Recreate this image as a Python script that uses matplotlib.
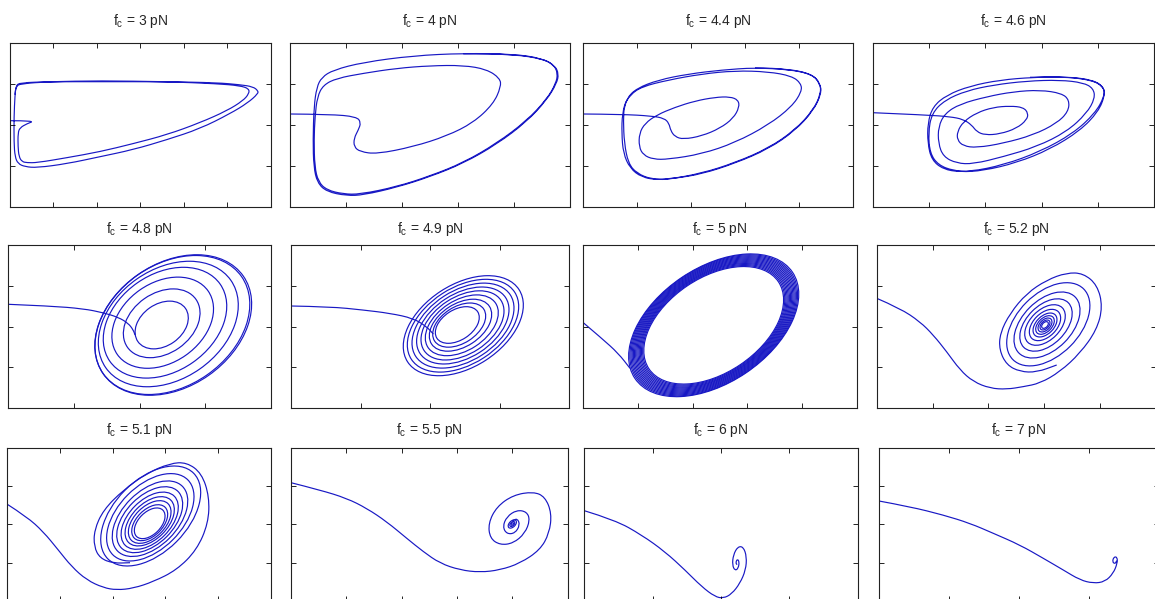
"""
Phase portraits of the oscillator for twelve values of the critical force f_c.
Trajectory points are read off the reference figure, in screen pixels of each
panel (x to the right, y up, origin at the lower-left corner of the box).
"""
import numpy as np
import matplotlib
matplotlib.use("Agg")
import matplotlib.pyplot as plt
from matplotlib.patches import Ellipse, PathPatch
from matplotlib.path import Path

plt.rcParams["font.family"] = ["Liberation Sans", "DejaVu Sans"]
plt.rcParams["mathtext.fontset"] = "custom"
plt.rcParams["mathtext.rm"] = "Liberation Sans"
plt.rcParams["mathtext.it"] = "Liberation Sans"

FC = ["3", "4", "4.4", "4.6", "4.8", "4.9", "5", "5.2", "5.1", "5.5", "6", "7"]

# ---- trajectories (polylines) ---------------------------------------------
TRAJ_3 = np.array([
    (0, 86), (25, 86), (17, 83), (10, 79), (8, 74), (8, 60), (9, 50), (12, 45),
    (17, 44), (27, 44), (57, 49), (90, 55), (123, 63), (157, 72), (190, 84),
    (217, 96), (233, 106), (239, 113), (239, 118), (230, 121), (207, 123),
    (157, 125), (90, 125), (40, 125), (10, 123), (6, 120), (5, 112), (4, 90),
    (4, 64), (5, 50), (8, 43), (15, 40), (27, 39), (57, 43), (90, 50),
    (123, 57), (157, 67), (190, 78), (220, 93), (238, 104), (248, 113),
    (248, 116), (243, 120), (230, 122), (207, 124), (157, 125), (90, 126),
    (40, 125), (10, 124), (6, 121), (5, 112)])

TRAJ_4 = np.array([
    (0, 92.7), (40, 92.4), (66.7, 90), (71, 84), (68.3, 76.7), (64, 68.4),
    (64, 60), (70, 55), (86.7, 52.7), (123.3, 60), (156.7, 70.7), (183.3, 84),
    (203.3, 102.7), (211, 120), (210, 128.4), (196.7, 137.4), (173.3, 141.4),
    (140, 141), (106.7, 138.4), (73.3, 133.4), (46.7, 128.4), (33.3, 121.7),
    (27.3, 110), (25, 90), (24, 66.7), (24.7, 40), (28.3, 25), (36.7, 16.7),
    (53.3, 12.7), (70, 12.4), (106.7, 20), (140, 30.7), (173.3, 44),
    (206.7, 63.4), (236.7, 86), (256.7, 107.4), (266, 123.4), (267.7, 133.4),
    (264, 141.7), (251.7, 148.4), (223.3, 152.7), (173.3, 153.4),
    (123.3, 151), (73.3, 144.4), (43.3, 136.7), (31.7, 129.4), (26.7, 119.4),
    (24, 100), (23, 66.7), (23.7, 40), (27.3, 24), (36.7, 15), (56.7, 11),
    (73.3, 11.7), (106.7, 19.4), (140, 30), (173.3, 43.4), (206.7, 62.4),
    (236.7, 85), (256.7, 106.7), (266.7, 123.4), (268.7, 132.7), (265, 141),
    (253.3, 147.7), (223.3, 152.4), (173.3, 153)])

TRAJ_44 = np.array([
    (0, 92.7), (38.4, 92.4), (68.4, 90.7), (81, 88.4), (85.7, 83.4),
    (87.4, 76), (91.7, 70), (100, 67.4), (118.4, 70.7), (136.7, 78.4),
    (150, 88.4), (156, 99.4), (155, 106.7), (146.7, 110), (131.7, 109.4),
    (111.7, 105.7), (91.7, 99.4), (73.4, 91.7), (61.7, 83.4), (56, 73.4),
    (55.7, 60), (60, 51.7), (70, 47.4), (85, 47.4), (118.4, 52.7),
    (151.7, 64), (185, 81.7), (208.4, 100), (218.4, 115), (217.7, 123.4),
    (208.4, 130.7), (185, 135), (151.7, 136), (118.4, 132.7), (85, 126.7),
    (58.4, 120), (46.7, 111.7), (41, 101.7), (40, 86.7), (41, 63.4),
    (45, 43.4), (53.4, 33.4), (68.4, 27.4), (85, 27.4), (118.4, 33.4),
    (151.7, 44), (185, 58.4), (211.7, 76.7), (230, 96.7), (237.7, 113.4),
    (236.7, 123.4), (228.4, 132.7), (205, 137.7), (171.7, 139),
    (138.4, 136.7), (105, 132.7), (75, 126.7), (53.4, 118.4), (43.4, 108.4),
    (39, 93.4), (38.4, 73.4), (40, 53.4), (46.7, 38.4), (58.4, 29.4),
    (75, 26.7), (91.7, 28.4), (118.4, 32.7), (151.7, 43.4), (185, 57.7),
    (211.7, 76), (230, 96), (238, 113), (237, 123), (229, 132.4),
    (205, 137.4), (171.7, 138.7)])

TRAJ_46 = np.array([
    (0, 94), (53.7, 91.7), (77, 90), (90.3, 87.4), (98.7, 81.7), (103.7, 75),
    (112, 71.7), (127, 72.7), (143.7, 78.4), (153.7, 86.7), (155.3, 93.4),
    (150.3, 99.4), (137, 100.7), (120.3, 99.4), (103.7, 94), (90.3, 85),
    (84.3, 75), (84.3, 66.7), (90.3, 60.7), (103.7, 59), (130.3, 63.4),
    (160.3, 71.7), (183.7, 83.4), (195.3, 95), (196.3, 106.7), (188.7, 113.4),
    (167, 116.7), (140.3, 115), (113.7, 110), (87, 102.7), (72, 93.4),
    (65.3, 80), (65.3, 63.4), (70.3, 50), (83.7, 43.4), (100.3, 42.7),
    (130.3, 50), (163.7, 60), (193.7, 75), (213.7, 93.4), (222, 108.4),
    (220.3, 118.4), (210.3, 124), (187, 126.7), (153.7, 125.7),
    (120.3, 121.7), (93.7, 116), (72, 106.7), (58.7, 93.4), (55.3, 73.4),
    (57, 53.4), (65.3, 41.7), (80.3, 36), (97, 35), (130.3, 41.7),
    (167, 55), (200.3, 73.4), (222, 93.4), (231.3, 110), (231, 119.4),
    (220.3, 126.7), (193.7, 130), (160.3, 129.4), (127, 126.7), (97, 120.7),
    (73.7, 111.7), (59.7, 100), (54.7, 83.4), (54.7, 63.4), (58.7, 46.7),
    (70.3, 37.4), (87, 34.7), (110.3, 36), (143.7, 44), (177, 57.4),
    (207, 76), (225.3, 95), (232, 111.7), (230.3, 120), (218.7, 126.7),
    (190.3, 130), (157, 129.4)])

TRAJ_48 = np.array([
    (0, 103.2), (41.7, 101.5), (75, 98.8), (95, 94.8), (110, 90.2),
    (120, 84.2), (125, 77.5), (126.7, 72.5)])

TRAJ_49 = np.array([
    (0, 101.5), (39, 100.8), (72.3, 97.5), (99, 94.2), (122.3, 89.2),
    (135.7, 80.8), (142.3, 73.5)])

TRAJ_5 = np.array([(0, 84.8), (18.4, 69.2), (35, 54.2), (46.7, 39.2)])

TRAJ_52 = np.array([
    (0, 109.2), (23.3, 99.2), (43.3, 85.8), (56.6, 72.5), (70, 55.8),
    (83.3, 37.5), (96.6, 25.8), (113.3, 19.2), (130, 18.2), (146.6, 20.8),
    (163.3, 24.2), (183.3, 35.8), (203.3, 54.2), (220, 77.5), (226, 100.8),
    (220.6, 122.5), (206.6, 134.2), (190, 134.8), (170, 127.5),
    (150, 114.2), (133.3, 94.2), (123.3, 74.2), (122.6, 57.5), (130, 42.5),
    (143.3, 35.8), (160, 35.2), (180, 42.5)])

TRAJ_51 = np.array([
    (0, 96.7), (19.4, 84.3), (36, 69.3), (51, 51), (64.4, 34.3), (79.4, 21),
    (96, 13.3), (109.4, 11), (126, 12.7), (146, 19.3), (169.4, 31),
    (189.4, 51), (201, 77.7), (202, 104.3), (194.4, 127.7), (179.4, 138.7),
    (162.7, 137.7), (139.4, 127.7), (116, 111), (96, 91), (87, 71),
    (86.7, 54.3), (92.7, 42.7), (106, 37.7), (122.7, 38.3)])

TRAJ_55 = np.array([
    (0, 118.3), (29, 111), (55.7, 102.7), (75.7, 92.7), (95.7, 79.3),
    (115.7, 62.7), (132.3, 49.3), (149, 37.7), (169, 31), (189, 28.7),
    (209, 31), (229, 37.7), (249, 51), (258.3, 67.7), (260.7, 87.7),
    (254, 104.3), (242.3, 109.3), (222.3, 106), (205.7, 94.3), (197.3, 77.7),
    (199, 62.7), (209, 56), (222.3, 57.7), (234, 67.7), (239, 81),
    (235.7, 89.3), (225.7, 91), (215.7, 84.3), (211.7, 74.3), (215.7, 67),
    (224, 67.7), (229, 76), (226.3, 82.7), (221.3, 80)])

TRAJ_6 = np.array([
    (0, 90.3), (30.7, 81), (57.4, 66), (80.7, 49.3), (100.7, 31),
    (117.4, 14.3), (130.7, 4.3), (139, 2.7), (147.4, 7), (155.7, 17.7),
    (161.4, 31), (162.4, 44.3), (159, 54.3), (153.4, 54.3), (149, 46),
    (148, 36), (150.7, 30.3), (154, 32.7), (155, 39.3), (153, 42),
    (151.4, 38.3), (152.7, 36.3)])

TRAJ_7 = np.array([
    (0, 100), (31, 94.3), (64.3, 86), (91, 77.7), (114.3, 67.7), (141, 56),
    (164.3, 42.7), (184.3, 31), (201, 21), (214.3, 17.7), (226, 19.3),
    (234.3, 27.7), (238.3, 37.7), (238.3, 43.7), (235, 44.3), (233.3, 39.3),
    (236, 37), (237.7, 40.3)])

TRAJS = [TRAJ_3, TRAJ_4, TRAJ_44, TRAJ_46, TRAJ_48, TRAJ_49,
         TRAJ_5, TRAJ_52, TRAJ_51, TRAJ_55, TRAJ_6, TRAJ_7]

# ---- spiral turns drawn as ellipses: centre x, centre y, semi-axes a, b
RING_48_CX = [153.4, 153.4, 154.4, 156.7, 160.0, 164.0, 165.0]
RING_48_CY = [82.5, 84.2, 84.8, 84.8, 83.5, 82.5, 82.5]
RING_48_A = [29.0, 41.8, 55.4, 67.3, 76.3, 84.5, 85.4]
RING_48_B = [20.9, 30.1, 39.9, 48.5, 54.9, 60.8, 61.5]

RING_49_CX = [166.3, 168.2, 169.5, 170.8, 171.5, 171.8, 172.0, 172.0, 172.3]
RING_49_CY = [82.5, 82.4, 82.3, 82.2, 82.1, 82.0, 81.9, 81.8, 81.8]
RING_49_A = [24.3, 29.3, 34.5, 40.4, 45.9, 51.1, 56.4, 61.6, 66.4]
RING_49_B = [15.1, 18.2, 21.4, 25.0, 28.5, 31.7, 35.0, 38.2, 41.2]

RING_5_CX = [130.4] * 14
RING_5_CY = [82.2] * 14
RING_5_A = [78.0, 79.3, 80.6, 81.9, 83.2, 84.5, 85.8, 87.1, 88.4, 89.7,
            91.0, 92.3, 93.6, 95.0]
RING_5_B = [47.5, 48.3, 49.1, 49.9, 50.6, 51.4, 52.2, 53.0, 53.8, 54.6,
            55.4, 56.2, 57.0, 57.5]

RING_52_CX = [171.6, 170.3, 169.3, 168.3, 168.3, 168.3, 168.3, 168.3, 168.3, 168.3]
RING_52_CY = [83.2, 82.5, 82.5, 82.5, 82.5, 82.5, 82.5, 82.5, 82.5, 82.5]
RING_52_A = [50.0, 39.7, 31.5, 24.4, 18.8, 14.4, 11.2, 8.4, 6.0, 4.0]
RING_52_B = [31.0, 24.6, 19.5, 15.1, 11.7, 8.9, 6.9, 5.2, 3.7, 2.5]

RING_51_CX = [143.4, 143.0, 142.7, 142.4, 142.4, 142.4, 142.4, 142.4, 142.4]
RING_51_CY = [85.0, 83.7, 82.3, 81.3, 80.3, 79.7, 79.0, 78.3, 77.7]
RING_51_A = [60.6, 53.0, 45.8, 40.0, 34.7, 29.9, 25.9, 21.8, 18.6]
RING_51_B = [36.4, 31.8, 27.5, 24.0, 20.8, 17.9, 15.5, 13.1, 11.2]

RING_55_CX = [221.3, 221.3, 221.3]
RING_55_CY = [77.0, 77.0, 77.0]
RING_55_A = [5.0, 3.0, 1.5]
RING_55_B = [3.0, 1.8, 0.9]

# panel index -> (cx, cy, a, b, tilt in degrees)
RINGS = {4: (RING_48_CX, RING_48_CY, RING_48_A, RING_48_B, 35),
         5: (RING_49_CX, RING_49_CY, RING_49_A, RING_49_B, 33),
         6: (RING_5_CX, RING_5_CY, RING_5_A, RING_5_B, 34),
         7: (RING_52_CX, RING_52_CY, RING_52_A, RING_52_B, 45),
         8: (RING_51_CX, RING_51_CY, RING_51_A, RING_51_B, 45),
         9: (RING_55_CX, RING_55_CY, RING_55_A, RING_55_B, 45)}

# ---- layout: panel boxes in pixels (left, top, right, bottom) -------------
FIG_W, FIG_H = 1155, 599
BOXES = [(10, 42.6, 270.7, 206.7), (290, 42.6, 570, 206.7),
         (583.3, 42.6, 853, 206.7), (873, 42.6, 1154, 206.7),
         (8.3, 245.5, 270.7, 407.5), (291, 245.5, 569.3, 407.5),
         (583.3, 245.5, 856.7, 407.5), (876.7, 245.5, 1156, 407.5),
         (7.3, 447.5, 270.7, 601), (291, 447.5, 567.7, 601),
         (584.3, 447.5, 857.7, 601), (879, 447.5, 1159, 601)]
NX = [6, 5, 5, 5, 4, 4, 5, 5, 5, 5, 4, 4]
NY = [4, 4, 4, 4, 4, 4, 2, 4, 4, 4, 4, 4]
TITLE_PAD = [12.8] * 4 + [9.0] * 4 + [9.5] * 4

LINE = "#1818c4"
LW = 0.85


def smooth(pts):
    """Path through the read points, corners rounded by quadratic segments."""
    verts, codes = [pts[0]], [Path.MOVETO]
    for k in range(1, len(pts) - 1):
        verts += [pts[k], (pts[k] + pts[k + 1]) / 2]
        codes += [Path.CURVE3, Path.CURVE3]
    verts.append(pts[-1])
    codes.append(Path.LINETO)
    return Path(verts, codes)


fig = plt.figure(figsize=(FIG_W / 100, FIG_H / 100), dpi=100)
for i, (l, t, r, b) in enumerate(BOXES):
    w, h = r - l, b - t
    ax = fig.add_axes([l / FIG_W, 1 - b / FIG_H, w / FIG_W, h / FIG_H])
    ax.set_xlim(0, w)
    ax.set_ylim(0, h)
    ax.set_xticks(np.linspace(0, w, NX[i] + 1)[1:-1])
    ax.set_yticks(np.linspace(0, h, NY[i] + 1)[1:-1])
    ax.tick_params(direction="in", length=3.5, width=0.6, top=True,
                   right=True, labelbottom=False, labelleft=False)
    for sp in ax.spines.values():
        sp.set_linewidth(0.8)
        sp.set_color("#222222")

    ax.add_patch(PathPatch(smooth(TRAJS[i]), fill=False, ec=LINE, lw=LW))
    if i in RINGS:
        cx, cy, aa, bb, ang = RINGS[i]
        for x0, y0, a, bsemi in zip(cx, cy, aa, bb):
            ax.add_patch(Ellipse((x0, y0), 2 * a, 2 * bsemi, angle=ang,
                                 fill=False, ec=LINE, lw=LW))

    ax.set_title(r"f$_\mathrm{c}$ = " + FC[i] + " pN", fontsize=10,
                 color="#262626", pad=TITLE_PAD[i])

fig.savefig("out.png", dpi=100)
